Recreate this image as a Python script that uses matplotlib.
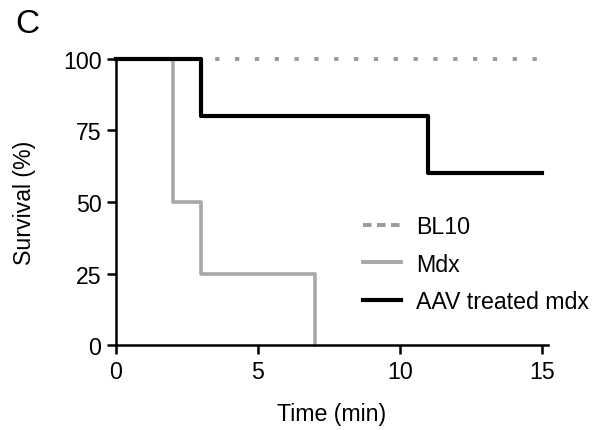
import matplotlib
matplotlib.use("Agg")
import matplotlib.pyplot as plt
from matplotlib.lines import Line2D

plt.rcParams['font.family'] = ['Liberation Sans', 'DejaVu Sans']

# survival data (time in min, survival in %)
bl10_t = [0, 15]
bl10_s = [100, 100]
mdx_t = [0, 2, 3, 7]
mdx_s = [100, 50, 25, 0]
aav_t = [0, 3, 11, 15]
aav_s = [100, 80, 60, 60]

x_ticks = [0, 5, 10, 15]
y_ticks = [0, 25, 50, 75, 100]

fs = 16.7

fig = plt.figure(figsize=(6, 4.31), dpi=100)
ax = fig.add_axes([0.1933, 0.197, 0.7196, 0.664])

ax.step(bl10_t, bl10_s, where='post', color='#9a9a9a', lw=2.8,
        dashes=(1.1, 4.0), clip_on=False)
ax.step(mdx_t, mdx_s, where='post', color='#a8a8a8', lw=2.6,
        clip_on=False)
ax.step(aav_t, aav_s, where='post', color='black', lw=3.0,
        clip_on=False)

ax.set_xlim(0, 15.2)
ax.set_ylim(0, 100)
ax.set_xticks(x_ticks)
ax.set_yticks(y_ticks)
ax.spines['top'].set_visible(False)
ax.spines['right'].set_visible(False)
for s in ['left', 'bottom']:
    ax.spines[s].set_linewidth(1.8)
ax.tick_params(direction='out', length=6.5, width=1.8, labelsize=fs, pad=4)

ax.set_xlabel('Time (min)', fontsize=fs, labelpad=14)
ax.set_ylabel('Survival (%)', fontsize=fs, labelpad=19)

# legend proxies (dashed key like the original)
handles = [Line2D([], [], color='#9a9a9a', lw=2.8, dashes=(2.2, 1.4)),
           Line2D([], [], color='#a8a8a8', lw=2.8),
           Line2D([], [], color='black', lw=3.0)]
labels = ['BL10', 'Mdx', 'AAV treated mdx']
ax.legend(handles, labels, loc='center left', bbox_to_anchor=(0.572, 0.283),
          frameon=False, fontsize=fs, handlelength=1.65,
          handletextpad=0.65, labelspacing=0.62, borderpad=0,
          borderaxespad=0)

fig.text(0.025, 0.943, 'C', fontsize=24, va='center', ha='left')

fig.savefig('out.png', dpi=100)
